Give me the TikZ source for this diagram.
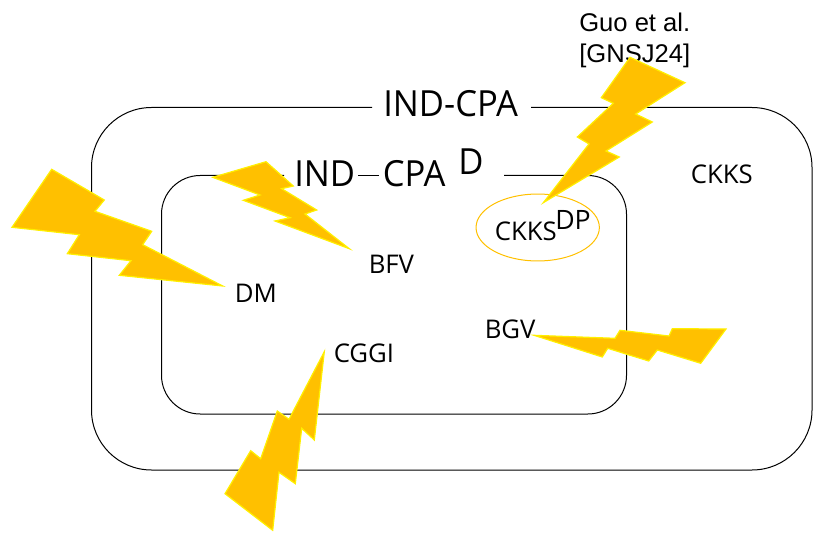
\documentclass[tikz,border=0pt]{standalone}
\usepackage{fontspec}
\usetikzlibrary{shapes.geometric}
\setmainfont{Open Sans}
\newfontfamily\arialfont{Liberation Sans}
\newfontfamily\bigfont[FakeStretch=0.96]{Open Sans}
\definecolor{boltfill}{HTML}{FFC000}
\definecolor{boltedge}{HTML}{FFF000}
\tikzset{
  bolt/.style={fill=boltfill,draw=boltedge,line width=0.9pt,line join=miter},
  frame/.style={draw=black,line width=0.75pt},
  biglabel/.style={anchor=base west,inner sep=0pt,font=\bigfont\fontsize{27}{27}\selectfont},
  scheme/.style={anchor=base west,inner sep=0pt,font=\fontsize{19.3}{19.3}\selectfont},
  note/.style={anchor=base west,inner sep=0pt,font=\arialfont\fontsize{19.2}{19.2}\selectfont},
}
\begin{document}
\begin{tikzpicture}[x=0.75pt,y=-0.75pt]
\useasboundingbox (0,0) rectangle (830,538);
% frames
\draw[frame,rounded corners=45pt] (531,107.5) -- (812,107.5) -- (812,470) -- (91.5,470) -- (91.5,107.5) -- (372,107.5);
\draw[frame,rounded corners=29pt] (504,175.5) -- (626.5,175.5) -- (626.5,414) -- (161.5,414) -- (161.5,175.5) -- (284,175.5);
\coordinate (dashA) at (358,175.5);
\coordinate (dashB) at (379,175.5);
\draw[frame] (dashA) -- (dashB);
% labels
\node[biglabel] (outertitle) at (383,116.5) {IND-CPA};
\node[biglabel] (innerind) at (294,187) {IND};
\node[biglabel] (innercpa) at (382.5,187) {CPA};
\node[biglabel] (innerd) at (458,175) {D};
\node[scheme] (ckks) at (690.5,184) {CKKS};
\node[scheme] (bfv) at (368.5,273) {BFV};
\node[scheme] (dm) at (234.5,302) {DM};
\node[scheme] (cggi) at (333.5,362) {CGGI};
\node[scheme] (bgv) at (484.5,338) {BGV};
\node[draw=boltfill,line width=0.75pt,ellipse,minimum width=92.5pt,minimum height=50.2pt,inner sep=0pt] (dpellipse) at (537.7,227.5) {};
\node[scheme] (ckksdp) at (494.5,240) {CKKS};
\node[scheme,font=\fontsize{20}{20}\selectfont] (dp) at (555,229.5) {DP};
\node[note] (guo) at (579,32) {Guo et al.};
\node[note] (gnsj) at (579,63) {[GNSJ24]};
% bolts
\draw[bolt] (51.7,169.3) -- (104.3,200) -- (95,211.3) -- (151.7,231.3) -- (142.7,244.7) -- (222.7,286) -- (119.3,275.3) -- (131,260.7) -- (67.3,253.7) -- (79.3,234.7) -- (12,227.3) -- cycle;
\draw[bolt] (266,161.7) -- (293.3,186) -- (281.7,188.7) -- (316.7,210) -- (305,214) -- (349.3,248.7) -- (275,221) -- (290,217.7) -- (243.3,200.3) -- (260,195) -- (212.7,177.3) -- cycle;
\draw[bolt] (630,57.3) -- (685,82.7) -- (635.7,114) -- (652.3,122) -- (606,151) -- (619.3,157) -- (543.3,202.7) -- (589,144) -- (577.3,137) -- (613.3,103.3) -- (601.3,97.7) -- cycle;
\draw[bolt] (324.3,351.7) -- (314.3,440) -- (301.7,428.3) -- (295.3,483.7) -- (279,472.3) -- (272.7,530.3) -- (225,493.7) -- (250.7,450.7) -- (260.7,458.7) -- (277.3,411) -- (289,419.3) -- cycle;
\draw[bolt] (534,335.3) -- (615,338.3) -- (620,330.3) -- (669,336) -- (672.3,328.7) -- (726,329) -- (700.7,363.3) -- (657.3,350) -- (648.7,361) -- (607.7,348.3) -- (602.3,357) -- cycle;
\end{tikzpicture}
\end{document}
